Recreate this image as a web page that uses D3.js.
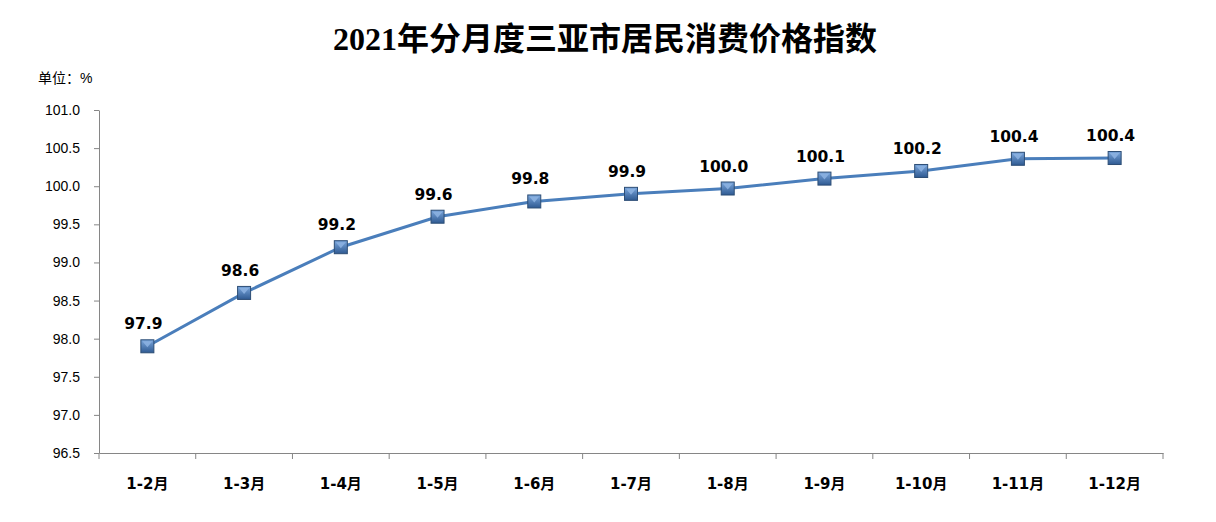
<!DOCTYPE html>
<html><head><meta charset="utf-8">
<script src="https://cdn.jsdelivr.net/npm/d3@7"></script>
<style>body{margin:0;background:#fff}svg{display:block}</style>
</head><body>
<script>
const categories = ["1-2月","1-3月","1-4月","1-5月","1-6月","1-7月","1-8月","1-9月","1-10月","1-11月","1-12月"];
const values = [97.9, 98.6, 99.2, 99.6, 99.8, 99.9, 99.97, 100.1, 100.2, 100.36, 100.37];
const yTicks = [96.5, 97.0, 97.5, 98.0, 98.5, 99.0, 99.5, 100.0, 100.5, 101.0];
const title = "2021年分月度三亚市居民消费价格指数";
const unitLabel = "单位：%";

const W = 1216, H = 522;
const svg = d3.select("body").append("svg").attr("width", W).attr("height", H);

const x = d3.scaleBand().domain(categories).range([99, 1163]);
const y = d3.scaleLinear().domain([96.5, 101.0]).range([453, 110]);

const defs = svg.append("defs");
const g1 = defs.append("linearGradient").attr("id","mk").attr("x1",0).attr("y1",0).attr("x2",0).attr("y2",1);
g1.append("stop").attr("offset","0%").attr("stop-color","#7aa6dc");
g1.append("stop").attr("offset","100%").attr("stop-color","#2f5a92");

svg.append("text").attr("x", 605).attr("y", 50).attr("text-anchor","middle")
  .style("font-family","'Liberation Serif','Noto Sans CJK SC',serif").style("font-weight","bold")
  .style("font-size","32px").attr("fill","#000").text(title);

svg.append("text").attr("x", 38).attr("y", 83)
  .style("font-family","'Liberation Sans','Noto Sans CJK SC',sans-serif").style("font-size","14px")
  .attr("fill","#000").text(unitLabel);

// y axis
const yAxis = svg.append("g").attr("transform","translate(99,0)")
  .call(d3.axisLeft(y).tickValues(yTicks).tickFormat(d3.format(".1f")).tickSize(5).tickSizeOuter(0));
yAxis.select(".domain").attr("stroke","#868686");
yAxis.selectAll(".tick line").attr("stroke","#868686");
yAxis.selectAll(".tick text").attr("x",-19).attr("fill","#000")
  .style("font-family","'Liberation Sans',sans-serif").style("font-size","14px");

// x axis
const xAxis = svg.append("g").attr("transform","translate(0,453)")
  .call(d3.axisBottom(x).tickSize(0).tickSizeOuter(0));
xAxis.select(".domain").attr("stroke","#868686");
xAxis.selectAll(".tick text").attr("y",25).attr("fill","#000")
  .style("font-family","'DejaVu Sans','Noto Sans CJK SC',sans-serif").style("font-weight","bold").style("font-size","15px");
// boundary ticks
const bounds = categories.map(c => x(c)).concat([x.range()[1]]);
svg.append("g").selectAll("line").data(bounds).join("line")
  .attr("x1", d => d).attr("x2", d => d).attr("y1", 453).attr("y2", 459)
  .attr("stroke","#868686");

// line
const cx = d => x(d.c) + x.bandwidth()/2;
const data = categories.map((c,i) => ({c, v: values[i]}));
svg.append("path").datum(data)
  .attr("d", d3.line().x(cx).y(d => y(d.v)))
  .attr("fill","none").attr("stroke","#4a7ebb").attr("stroke-width",3);

// markers
const s = 13;
const mk = svg.append("g").selectAll("g").data(data).join("g")
  .attr("transform", d => `translate(${cx(d)},${y(d.v)})`);
mk.append("rect").attr("x",-s/2).attr("y",-s/2).attr("width",s).attr("height",s)
  .attr("fill","url(#mk)").attr("stroke","#2c4d75").attr("stroke-width",1);
mk.append("path").attr("d", `M${-s/2+1.5},${-s/2+1.5} L${s/2-1.5},${-s/2+1.5} L0,1 Z`)
  .attr("fill","#8db3e2").attr("opacity",0.85);

// labels
svg.append("g").selectAll("text").data(data).join("text")
  .attr("x", d => cx(d) - 4).attr("y", d => y(d.v) - 17).attr("text-anchor","middle")
  .style("font-family","'DejaVu Sans',sans-serif").style("font-weight","bold").style("font-size","15.5px")
  .attr("fill","#000").text(d => d.v.toFixed(1));
</script>
</body></html>
